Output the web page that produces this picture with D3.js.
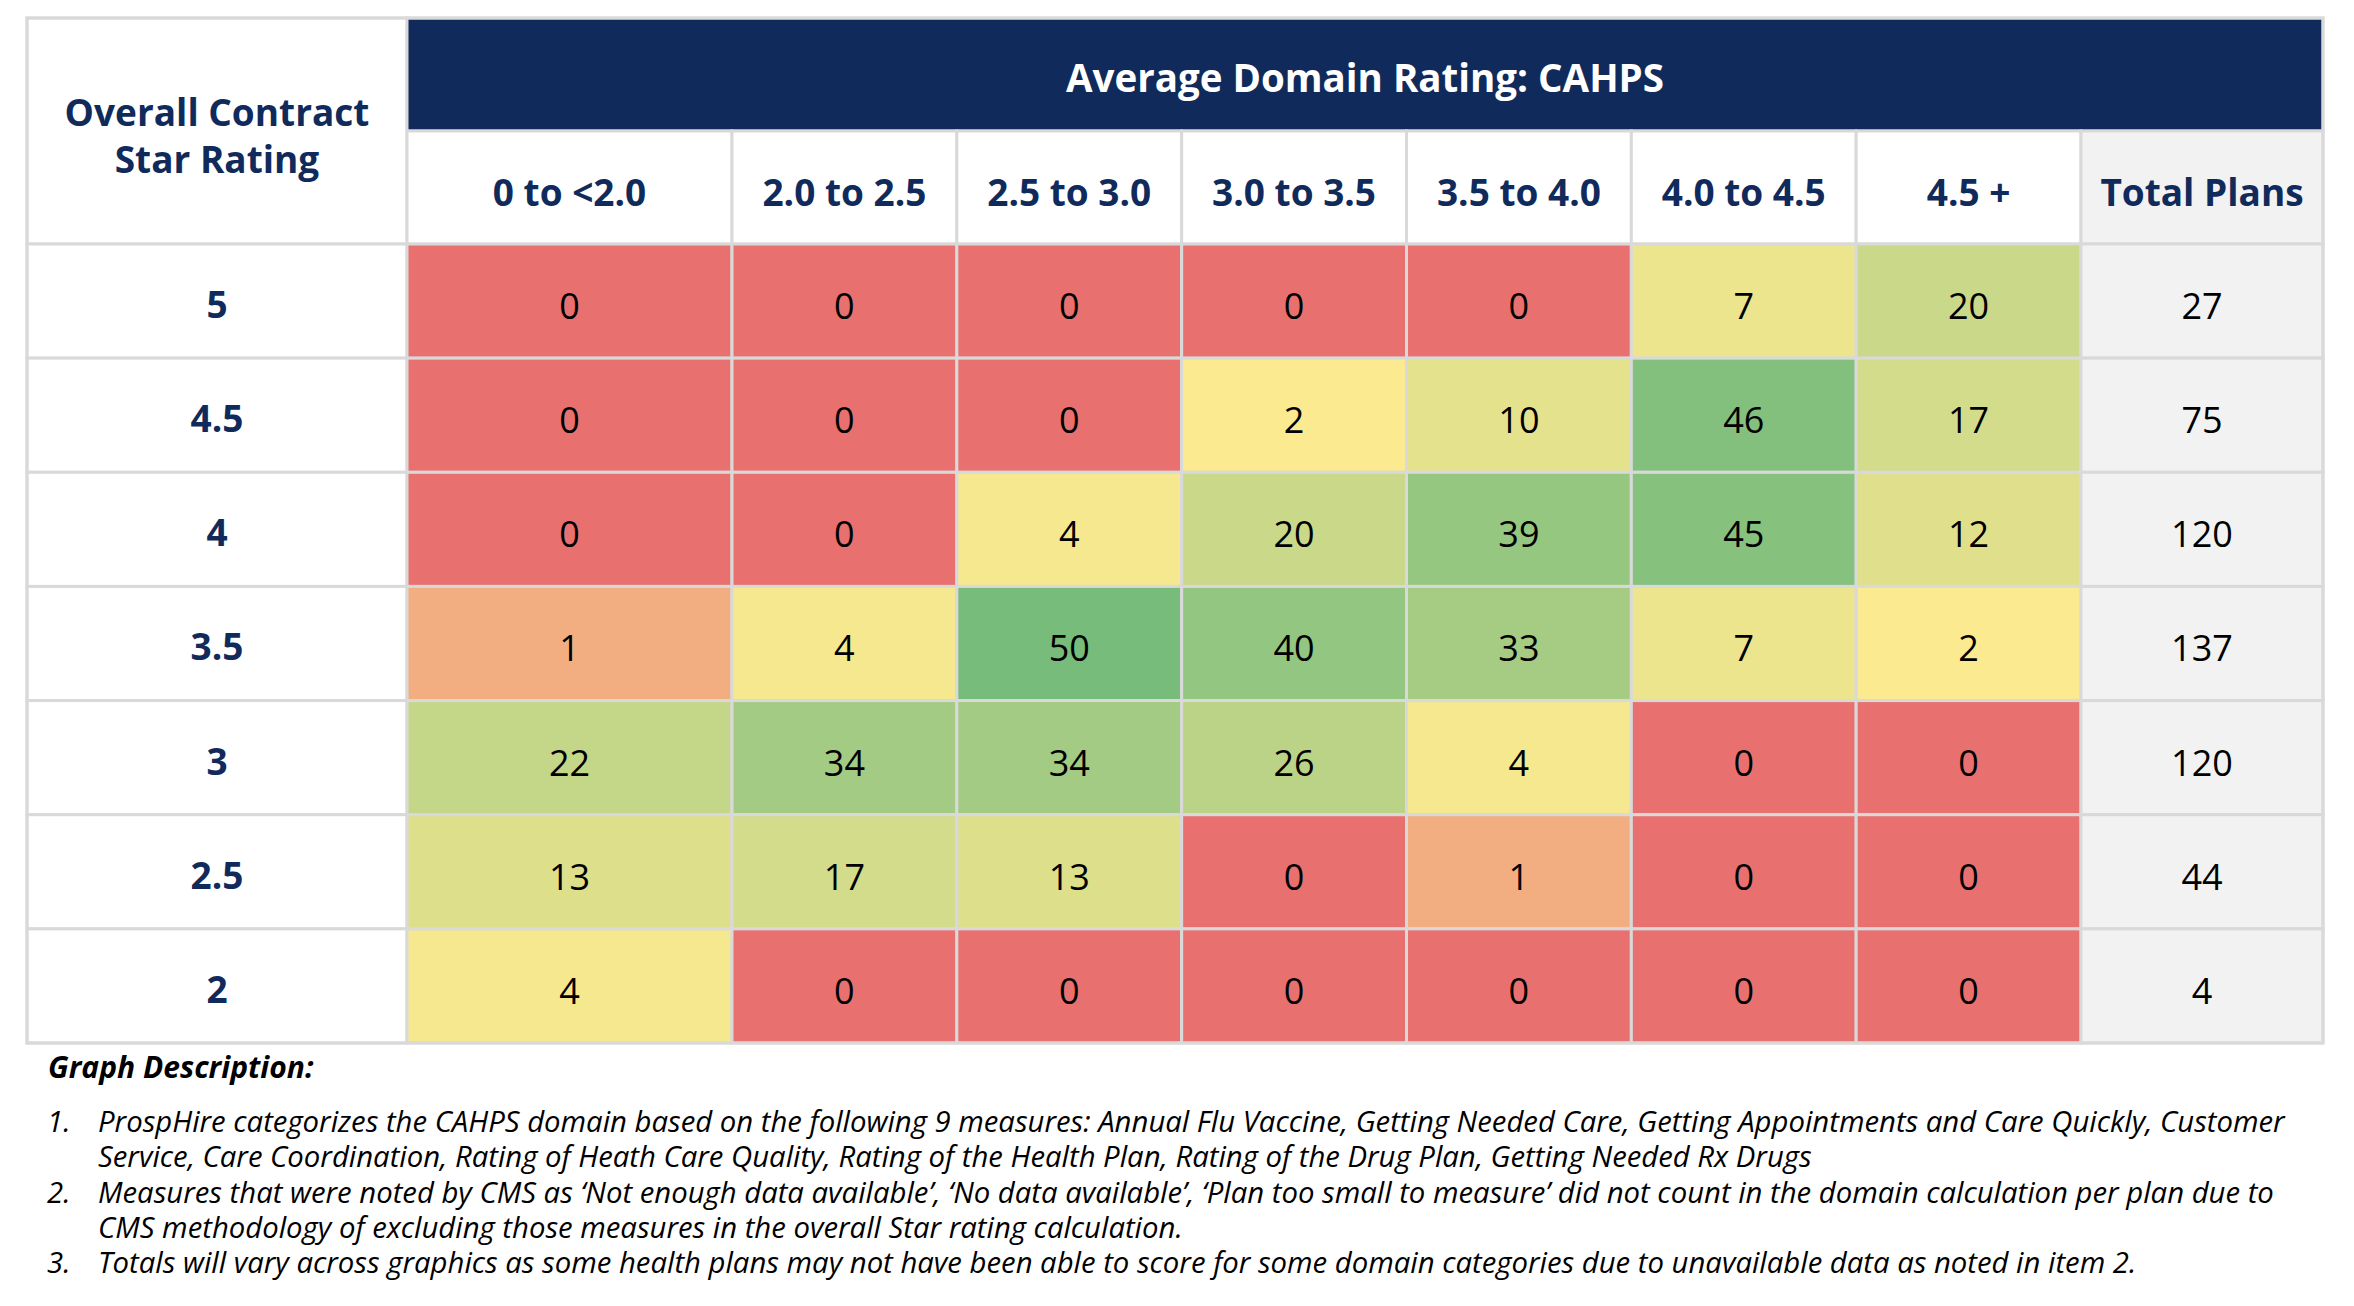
<!DOCTYPE html>
<html>
<head>
<meta charset="utf-8">
<script src="https://cdn.jsdelivr.net/npm/d3@7"></script>
<style>
  body { margin: 0; background: #fff; }
  text { font-family: "Open Sans", "Noto Sans", sans-serif; }
  .head { fill: #102b5b; font-weight: 700; font-size: 37px; }
  .title { fill: #fff; font-weight: 700; font-size: 38.5px; }
  .val { fill: #000; font-size: 36px; }
  .note { fill: #000; font-style: italic; font-size: 29.3px; }
</style>
</head>
<body>
<div id="chart"></div>
<script>
// ============ data =====================
var title = "Average Domain Rating: CAHPS";
var rowHeader = ["Overall Contract", "Star Rating"];
var domainBins = ["0 to <2.0", "2.0 to 2.5", "2.5 to 3.0", "3.0 to 3.5", "3.5 to 4.0", "4.0 to 4.5", "4.5 +"];
var totalLabel = "Total Plans";
var starRatings = ["5", "4.5", "4", "3.5", "3", "2.5", "2"];

var counts5   = [0, 0, 0, 0, 0, 7, 20];
var counts4_5 = [0, 0, 0, 2, 10, 46, 17];
var counts4   = [0, 0, 4, 20, 39, 45, 12];
var counts3_5 = [1, 4, 50, 40, 33, 7, 2];
var counts3   = [22, 34, 34, 26, 4, 0, 0];
var counts2_5 = [13, 17, 13, 0, 1, 0, 0];
var counts2   = [4, 0, 0, 0, 0, 0, 0];
var totalPlans = [27, 75, 120, 137, 120, 44, 4];

var notesTitle = "Graph Description:";
var noteNumbers = ["1.", "2.", "3."];
var noteLines = [
  ["ProspHire categorizes the CAHPS domain based on the following 9 measures: Annual Flu Vaccine, Getting Needed Care, Getting Appointments and Care Quickly, Customer",
   "Service, Care Coordination, Rating of Heath Care Quality, Rating of the Health Plan, Rating of the Drug Plan, Getting Needed Rx Drugs"],
  ["Measures that were noted by CMS as \u2018Not enough data available\u2019, \u2018No data available\u2019, \u2018Plan too small to measure\u2019 did not count in the domain calculation per plan due to",
   "CMS methodology of excluding those measures in the overall Star rating calculation."],
  ["Totals will vary across graphics as some health plans may not have been able to score for some domain categories due to unavailable data as noted in item 2."]
];

var grid = [counts5, counts4_5, counts4, counts3_5, counts3, counts2_5, counts2];

// ============ set up =====================
var svgWidth = 2354;
var svgHeight = 1306;

var svg = d3.select("#chart")
  .append("svg")
  .attr("width", svgWidth)
  .attr("height", svgHeight);

var tableLeft = 27, labelRight = 407, tableRight = 2323;
var tableTop = 18, bandBottom = 131, headBottom = 244, tableBottom = 1043;
var gridColor = "#d9d9d9";
var navy = "#102b5b";

// column index -> left edge (first bin is wider, total column a bit wider)
var x = d3.scaleLinear()
  .domain([0, 1, domainBins.length, domainBins.length + 1])
  .range([labelRight, 732, 2081, tableRight]);

var y = d3.scaleBand()
  .domain(starRatings)
  .range([headBottom, tableBottom]);

// 3-colour scale: min red, median yellow, max green
var allVals = d3.merge(grid);
var color = d3.scaleLinear()
  .domain([d3.min(allVals), d3.median(allVals), d3.max(allVals)])
  .range(["#e8716f", "#fbea90", "#78bc7c"]);

// ============ header =====================
svg.append("rect")
  .attr("x", tableLeft).attr("y", tableTop)
  .attr("width", labelRight - tableLeft).attr("height", headBottom - tableTop)
  .attr("fill", "#fff").attr("stroke", gridColor).attr("stroke-width", 3);

svg.append("rect")
  .attr("x", labelRight).attr("y", tableTop)
  .attr("width", tableRight - labelRight).attr("height", bandBottom - tableTop)
  .attr("fill", navy).attr("stroke", gridColor).attr("stroke-width", 3);

svg.append("text")
  .attr("class", "title")
  .attr("x", (labelRight + tableRight) / 2)
  .attr("y", 92)
  .attr("text-anchor", "middle")
  .text(title);

svg.selectAll(".rowhead")
  .data(rowHeader)
  .enter()
  .append("text")
  .attr("class", "head")
  .attr("x", (tableLeft + labelRight) / 2)
  .attr("y", (d, i) => 126 + i * 47)
  .attr("text-anchor", "middle")
  .text(d => d);

var colHeads = domainBins.concat([totalLabel]);

svg.selectAll(".colcell")
  .data(colHeads)
  .enter()
  .append("rect")
  .attr("x", (d, i) => x(i))
  .attr("y", bandBottom)
  .attr("width", (d, i) => x(i + 1) - x(i))
  .attr("height", headBottom - bandBottom)
  .attr("fill", (d, i) => i === domainBins.length ? "#f2f2f2" : "#fff")
  .attr("stroke", gridColor).attr("stroke-width", 3);

svg.selectAll(".collabel")
  .data(colHeads)
  .enter()
  .append("text")
  .attr("class", "head")
  .attr("x", (d, i) => (x(i) + x(i + 1)) / 2)
  .attr("y", 206)
  .attr("text-anchor", "middle")
  .text(d => d);

// ============ rows =====================
var rows = svg.selectAll(".row")
  .data(starRatings)
  .enter()
  .append("g")
  .attr("transform", d => `translate(0, ${y(d)})`);

rows.append("rect")
  .attr("x", tableLeft)
  .attr("width", labelRight - tableLeft)
  .attr("height", y.bandwidth())
  .attr("fill", "#fff")
  .attr("stroke", gridColor).attr("stroke-width", 3);

rows.append("text")
  .attr("class", "head")
  .attr("x", (tableLeft + labelRight) / 2)
  .attr("y", y.bandwidth() / 2 + 17)
  .attr("text-anchor", "middle")
  .text(d => d);

var cells = rows.selectAll(".cell")
  .data((d, r) => grid[r].map((v, c) => ({ v: v, c: c, total: false }))
    .concat([{ v: totalPlans[r], c: domainBins.length, total: true }]))
  .enter()
  .append("g");

cells.append("rect")
  .attr("x", d => x(d.c))
  .attr("width", d => x(d.c + 1) - x(d.c))
  .attr("height", y.bandwidth())
  .attr("fill", d => d.total ? "#f2f2f2" : color(d.v))
  .attr("stroke", gridColor).attr("stroke-width", 3);

cells.append("text")
  .attr("class", "val")
  .attr("x", d => (x(d.c) + x(d.c + 1)) / 2)
  .attr("y", y.bandwidth() / 2 + 18)
  .attr("text-anchor", "middle")
  .text(d => d.v);

// outer border
svg.append("rect")
  .attr("x", tableLeft).attr("y", tableTop)
  .attr("width", tableRight - tableLeft).attr("height", tableBottom - tableTop)
  .attr("fill", "none").attr("stroke", gridColor).attr("stroke-width", 3);

// ============ notes =====================
svg.append("text")
  .attr("class", "note")
  .attr("x", 48).attr("y", 1078)
  .style("font-weight", 700)
  .style("font-size", "30px")
  .text(notesTitle);

var lineY = 1132, lineStep = 35.3;
noteLines.forEach(function(lines, i) {
  svg.append("text")
    .attr("class", "note")
    .attr("x", 47).attr("y", lineY)
    .text(noteNumbers[i]);
  lines.forEach(function(line) {
    svg.append("text")
      .attr("class", "note")
      .attr("x", 98).attr("y", lineY)
      .text(line);
    lineY += lineStep;
  });
});
</script>
</body>
</html>
